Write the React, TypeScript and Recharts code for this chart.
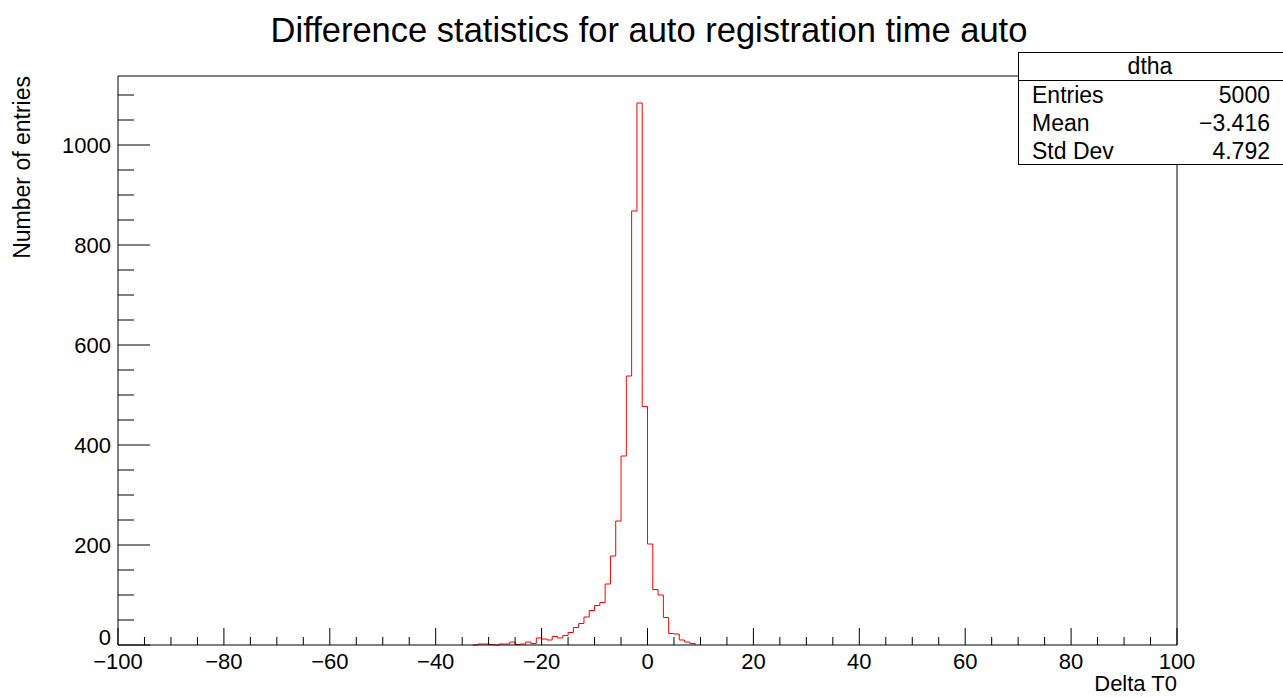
import { Line, LineChart, ReferenceLine, XAxis, YAxis } from 'recharts'

// histogram "dtha": 1-unit bins, low edge -> entries
const binLowEdges = [
  -33, -32, -31, -30, -29, -28, -27, -26, -25, -24, -23, -22, -21, -20, -19, -18, -17,
  -16, -15, -14, -13, -12, -11, -10, -9, -8, -7, -6, -5, -4, -3, -2, -1, 0, 1, 2, 3, 4,
  5, 6, 7, 8, 9,
]
const binCounts = [
  0, 2, 2, 1, 0, 2, 2, 6, 1, 2, 6, 3, 14, 12, 10, 17, 14,
  19, 25, 35, 43, 56, 69, 79, 85, 122, 178, 248, 378, 538, 868, 1084, 477, 202, 111, 100, 55, 23,
  22, 10, 6, 3, 0,
]

const xMajorTicks = [-100, -80, -60, -40, -20, 0, 20, 40, 60, 80, 100]
const yMajorTicks = [0, 200, 400, 600, 800, 1000]
const statNames = ['Entries', 'Mean', 'Std Dev']
const statValues = ['5000', '\u22123.416', '4.792']

const X_MIN = -100
const X_MAX = 100
const Y_MAX = 1138

const W = 1283
const H = 697
const PLOT_LEFT = 118
const PLOT_TOP = 76
const PLOT_RIGHT = 1177
const PLOT_BOTTOM = 645

const FONT = '"Liberation Sans", Arial, Helvetica, sans-serif'

const data = binLowEdges.map((edge, i) => ({ edge, count: binCounts[i] }))

const xTicks: number[] = []
for (let v = X_MIN; v <= X_MAX; v += 5) xTicks.push(v)
const yTicks: number[] = []
for (let v = 0; v <= 1100; v += 50) yTicks.push(v)

const fmt = (v: number) => (v < 0 ? '\u2212' + Math.abs(v) : String(v))

const XTick = ({ x, payload }: any) => {
  const v = payload.value as number
  const major = xMajorTicks.includes(v)
  return (
    <g>
      <line x1={x} x2={x} y1={PLOT_BOTTOM} y2={major ? PLOT_BOTTOM - 17 : PLOT_BOTTOM - 8} stroke="#000" />
      {major && (
        <text x={x} y={669} textAnchor="middle" fontFamily={FONT} fontSize={22} fill="#000">
          {fmt(v)}
        </text>
      )}
    </g>
  )
}

const YTick = ({ y, payload }: any) => {
  const v = payload.value as number
  const major = yMajorTicks.includes(v)
  return (
    <g>
      <line x1={PLOT_LEFT} x2={major ? PLOT_LEFT + 32 : PLOT_LEFT + 16} y1={y} y2={y} stroke="#000" />
      {major && (
        <text
          x={111}
          y={v === 0 ? y - 8 : y}
          textAnchor="end"
          dominantBaseline="central"
          fontFamily={FONT}
          fontSize={22}
          fill="#000"
        >
          {v}
        </text>
      )}
    </g>
  )
}

export default function App() {
  return (
    <div style={{ position: 'fixed', left: 0, top: 0, width: W, height: H, background: '#fff' }}>
      <LineChart
        width={W}
        height={H}
        data={data}
        margin={{ top: PLOT_TOP, right: W - PLOT_RIGHT, left: 0, bottom: 0 }}
      >
        <XAxis
          dataKey="edge"
          type="number"
          domain={[X_MIN, X_MAX]}
          ticks={xTicks}
          interval={0}
          tick={<XTick />}
          tickLine={false}
          axisLine={false}
          height={H - PLOT_BOTTOM}
        />
        <YAxis
          type="number"
          domain={[0, Y_MAX]}
          ticks={yTicks}
          interval={0}
          tick={<YTick />}
          tickLine={false}
          axisLine={false}
          width={PLOT_LEFT}
        />
        <Line
          type="stepAfter"
          dataKey="count"
          stroke="#ff0000"
          strokeWidth={1}
          dot={false}
          activeDot={false}
          isAnimationActive={false}
        />
        <ReferenceLine y={0} stroke="#000" />
        <ReferenceLine y={Y_MAX} stroke="#000" />
        <ReferenceLine x={X_MIN} stroke="#000" />
        <ReferenceLine x={X_MAX} stroke="#000" />
      </LineChart>
      <svg
        width={W}
        height={H}
        style={{ position: 'absolute', left: 0, top: 0, pointerEvents: 'none' }}
        fontFamily={FONT}
      >
        <text x={649} y={42} textAnchor="middle" fontSize={34.5} fill="#000">
          Difference statistics for auto registration time auto
        </text>
        <text
          transform={`translate(30, ${PLOT_TOP}) rotate(-90)`}
          textAnchor="end"
          fontSize={23}
          fill="#000"
        >
          Number of entries
        </text>
        <text x={PLOT_RIGHT} y={691} textAnchor="end" fontSize={22} fill="#000">
          Delta T0
        </text>
        <rect x={1018.5} y={52.5} width={270} height={112} fill="#fff" stroke="#000" />
        <line x1={1018} x2={W} y1={80.5} y2={80.5} stroke="#000" />
        <text x={1150} y={66} textAnchor="middle" dominantBaseline="central" fontSize={23} fill="#000">
          dtha
        </text>
        {statNames.map((name, i) => (
          <g key={name}>
            <text x={1032} y={95 + i * 28} dominantBaseline="central" fontSize={23} fill="#000">
              {name}
            </text>
            <text
              x={1270}
              y={95 + i * 28}
              textAnchor="end"
              dominantBaseline="central"
              fontSize={23}
              fill="#000"
            >
              {statValues[i]}
            </text>
          </g>
        ))}
      </svg>
    </div>
  )
}
